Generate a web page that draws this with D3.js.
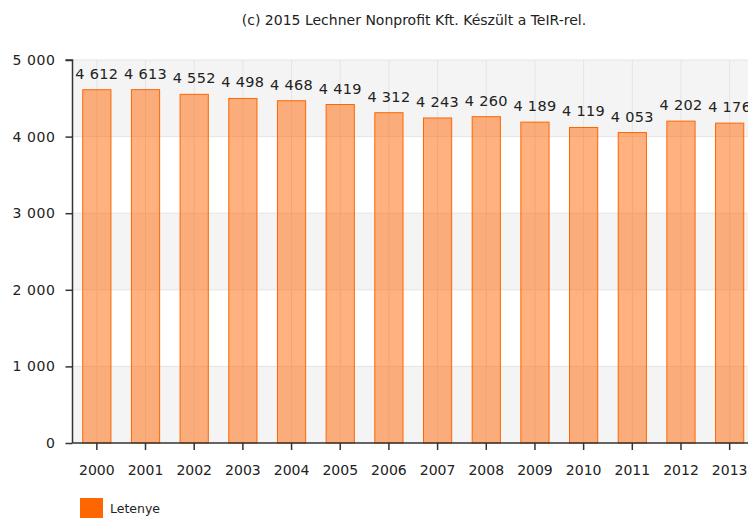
<!DOCTYPE html>
<html>
<head>
<meta charset="utf-8">
<script src="https://cdn.jsdelivr.net/npm/d3@7"></script>
<style>
  body { margin: 0; background: #fff; }
  svg { display: block; font-family: "DejaVu Sans", Verdana, sans-serif; }
</style>
</head>
<body>
<svg id="chart"></svg>
<script>
// data
var years = ["2000", "2001", "2002", "2003", "2004", "2005", "2006",
             "2007", "2008", "2009", "2010", "2011", "2012", "2013"];
var values = [4612, 4613, 4552, 4498, 4468, 4419, 4312,
              4243, 4260, 4189, 4119, 4053, 4202, 4176];
var yTicks = [0, 1000, 2000, 3000, 4000, 5000];
var seriesName = "Letenye";
var credit = "(c) 2015 Lechner Nonprofit Kft. Készült a TeIR-rel.";

var svgWidth = 748, svgHeight = 518;
// note: "top" is taken by window.top, so plot edges get their own names
var plotLeft = 72.5, plotRight = 754, plotTop = 60, plotBottom = 443;
var orange = "#ff6600";

var svg = d3.select("#chart")
  .attr("width", svgWidth)
  .attr("height", svgHeight);

var x = d3.scaleBand().domain(years).range([plotLeft, plotRight]).paddingInner(0.4).paddingOuter(0.2);
var y = d3.scaleLinear().domain([0, 5000]).range([plotBottom, plotTop]);

// alternating bands
var bands = d3.pairs(yTicks);
svg.append("g").selectAll("rect")
  .data(bands)
  .join("rect")
  .attr("x", plotLeft)
  .attr("width", plotRight - plotLeft)
  .attr("y", function(d) { return y(d[1]); })
  .attr("height", function(d) { return y(d[0]) - y(d[1]); })
  .attr("fill", function(d, i) { return i % 2 === 0 ? "#f4f4f4" : "#ffffff"; });

// grid lines
svg.append("g").selectAll("line")
  .data(yTicks.slice(1))
  .join("line")
  .attr("x1", plotLeft).attr("x2", plotRight)
  .attr("y1", function(d) { return y(d); })
  .attr("y2", function(d) { return y(d); })
  .attr("stroke", "#e4e4e4");

svg.append("g").selectAll("line")
  .data(years)
  .join("line")
  .attr("x1", function(d) { return x(d) + x.bandwidth() / 2; })
  .attr("x2", function(d) { return x(d) + x.bandwidth() / 2; })
  .attr("y1", plotTop).attr("y2", plotBottom)
  .attr("stroke", "#e4e4e4");

// bars
svg.append("g").selectAll("rect")
  .data(values)
  .join("rect")
  .attr("x", function(d, i) { return x(years[i]) + 0.5; })
  .attr("width", x.bandwidth() - 1)
  .attr("y", function(d) { return y(d); })
  .attr("height", function(d) { return plotBottom - y(d); })
  .attr("fill", orange)
  .attr("fill-opacity", 0.5)
  .attr("stroke", orange)
  .attr("stroke-width", 1);

// value labels
var fmt = function(v) { return d3.format(",")(v).replace(/,/g, " "); };
svg.append("g").selectAll("text")
  .data(values)
  .join("text")
  .attr("x", function(d, i) { return x(years[i]) + x.bandwidth() / 2; })
  .attr("y", function(d) { return y(d) - 11; })
  .attr("text-anchor", "middle")
  .attr("font-size", 14.5)
  .attr("letter-spacing", 0.3)
  .attr("fill", "#222")
  .text(fmt);

// axes
var yAxis = d3.axisLeft(y).tickValues(yTicks).tickSize(7).tickPadding(10).tickFormat(fmt);
var gy = svg.append("g").attr("transform", "translate(" + plotLeft + ",0)").call(yAxis);
gy.select(".domain").attr("stroke", "#333").attr("stroke-width", 1.5)
  .attr("d", "M-7," + y(5000) + "H0V" + plotBottom);
gy.selectAll(".tick line").attr("stroke", "#333").attr("stroke-width", 1.5);
gy.selectAll("text").attr("font-size", 14).attr("fill", "#222")
  .attr("letter-spacing", 0.6)
  .attr("font-family", "DejaVu Sans, Verdana, sans-serif");

var xAxis = d3.axisBottom(x).tickSize(7).tickPadding(15);
var gx = svg.append("g").attr("transform", "translate(0," + plotBottom + ")").call(xAxis);
gx.select(".domain").attr("stroke", "#333").attr("stroke-width", 1.5)
  .attr("d", "M" + plotLeft + ",0H" + plotRight);
gx.selectAll(".tick line").attr("stroke", "#333").attr("stroke-width", 1.5);
gx.selectAll("text").attr("font-size", 14).attr("fill", "#222")
  .attr("font-family", "DejaVu Sans, Verdana, sans-serif");

// credit line
svg.append("text")
  .attr("x", 414)
  .attr("y", 25)
  .attr("text-anchor", "middle")
  .attr("font-size", 14)
  .attr("fill", "#222")
  .text(credit);

// legend
svg.append("rect")
  .attr("x", 80).attr("y", 498)
  .attr("width", 23).attr("height", 23)
  .attr("fill", orange);
svg.append("text")
  .attr("x", 110).attr("y", 513)
  .attr("font-size", 12.5)
  .attr("fill", "#222")
  .text(seriesName);
</script>
</body>
</html>
